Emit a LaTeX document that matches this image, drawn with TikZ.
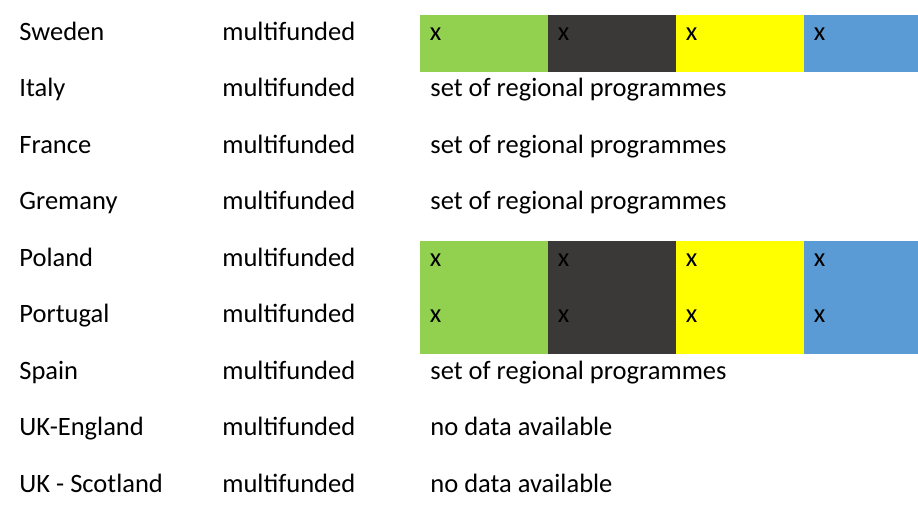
\documentclass[tikz,border=0pt]{standalone}
\usepackage{fontspec}
\setmainfont{Carlito}
\definecolor{bgreen}{HTML}{92D050}
\definecolor{bdark}{HTML}{3B3838}
\definecolor{byellow}{HTML}{FFFF00}
\definecolor{bblue}{HTML}{5B9BD5}
\begin{document}
\begin{tikzpicture}[x=0.5pt,y=-0.5pt,
  lbl/.style={anchor=base west, inner sep=0pt, text=black,
              font=\fontsize{13.25pt}{15pt}\selectfont}]
\useasboundingbox (0,0) rectangle (918,515);

% coloured bands: Sweden (row 1) and Poland/Portugal (rows 5-6)
\foreach \col/\xa/\xb [count=\k] in {bgreen/420/548, bdark/548/676, byellow/676/804, bblue/804/918} {
  \fill[\col] (\xa,15) rectangle (\xb,72);
  \fill[\col] (\xa,241) rectangle (\xb,354);
  \node[lbl] (xa\k) at (\xa+9.5,40) {x};
  \node[lbl] (xb\k) at (\xa+9.5,266) {x};
  \node[lbl] (xc\k) at (\xa+9.5,322.5) {x};
}

% table rows
\foreach \country/\third [count=\i] in {
  Sweden/,
  Italy/set of regional programmes,
  France/set of regional programmes,
  Gremany/set of regional programmes,
  Poland/,
  Portugal/,
  Spain/set of regional programmes,
  UK-England/no data available,
  UK - Scotland/no data available} {
  \pgfmathsetmacro\base{40+56.5*(\i-1)}
  \node[lbl] (c\i) at (19,\base) {\country};
  \node[lbl] (f\i) at (222,\base) {multifunded};
  \node[lbl] (p\i) at (430,\base) {\third};
}
\end{tikzpicture}
\end{document}
